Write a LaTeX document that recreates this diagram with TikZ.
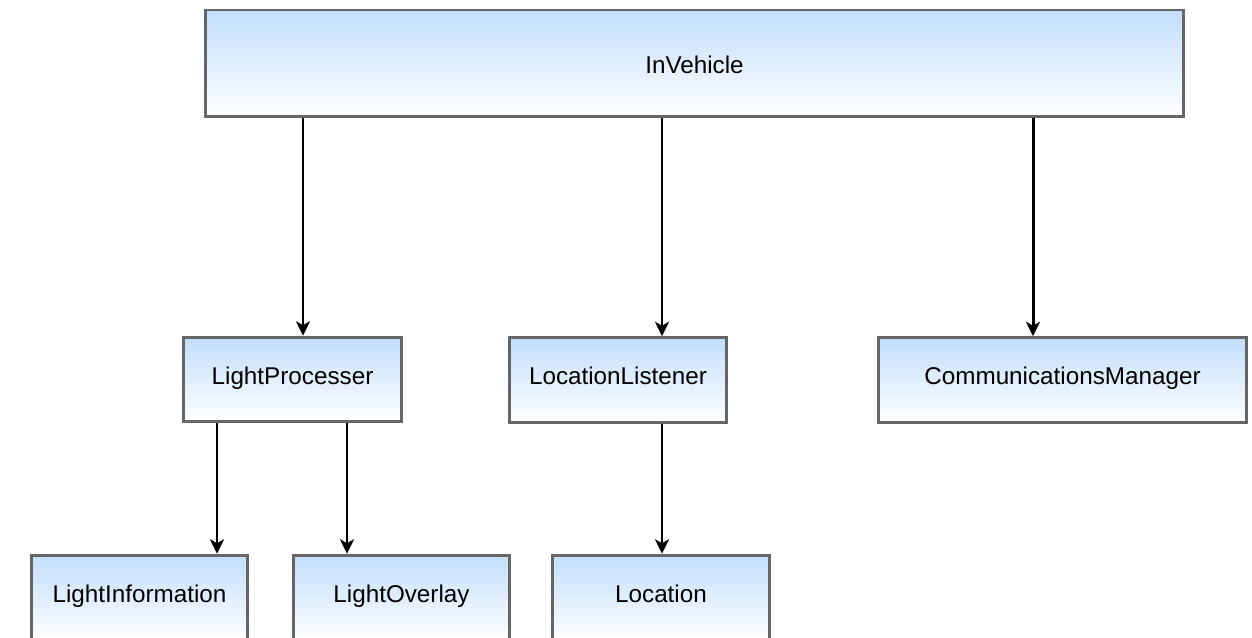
\documentclass[tikz,border=0pt]{standalone}
\usepackage{fontspec}
\setmainfont{Liberation Sans}
\usetikzlibrary{arrows.meta,positioning,calc}

\definecolor{boxtop}{HTML}{C2DEFB}
\definecolor{boxline}{HTML}{666666}

\begin{document}
\begin{tikzpicture}[
  x=0.02cm, y=-0.02cm,
  font=\fontsize{13.8}{16}\selectfont,
  cls/.style={draw=boxline,line width=1.7pt,top color=boxtop,bottom color=white,
              inner sep=0pt,minimum height=1.69cm,text height=1.5ex,text depth=.5ex,
              text=black},
  arr/.style={line width=1.7pt,-{Stealth[length=2.9mm,width=2.8mm,inset=0.8mm]}}
]
\useasboundingbox (0,0) rectangle (1252,638);
\clip (0,0) rectangle (1252,638);

% ---- top class ----
\node[cls,minimum width=19.58cm,minimum height=2.14cm,text height=2.1ex,text depth=0pt]
  (veh) at (694.5,63.5) {InVehicle};

% ---- second row ----
\node[cls,minimum width=4.38cm] (proc) at (292.5,379.5) {LightProcesser};
\node[cls,minimum width=4.36cm] (lis)  at (618,380)     {LocationListener};
\node[cls,minimum width=7.38cm] (comm) at (1062.5,380)  {CommunicationsManager};

% ---- third row (cut by the page edge) ----
\node[cls,minimum width=4.34cm] (info) at (139.5,597.5) {LightInformation};
\node[cls,minimum width=4.34cm] (ovl)  at (401.5,597.5) {LightOverlay};
\node[cls,minimum width=4.36cm] (loc)  at (661,597.5)   {Location};

% ---- where the arrows run ----
\coordinate (xa) at (303,0);
\coordinate (xb) at (662,0);
\coordinate (xc) at (1033,0);
\coordinate (xd) at (217,0);
\coordinate (xe) at (347,0);

\draw[arr] (veh.south -| xa) -- (proc.north -| xa);
\draw[arr] (veh.south -| xb) -- (lis.north -| xb);
\draw[arr] (veh.south -| xc) -- (comm.north -| xc);
\draw[arr] (proc.south -| xd) -- (info.north -| xd);
\draw[arr] (proc.south -| xe) -- (ovl.north -| xe);
\draw[arr] (lis.south -| xb) -- (loc.north -| xb);

\end{tikzpicture}
\end{document}
